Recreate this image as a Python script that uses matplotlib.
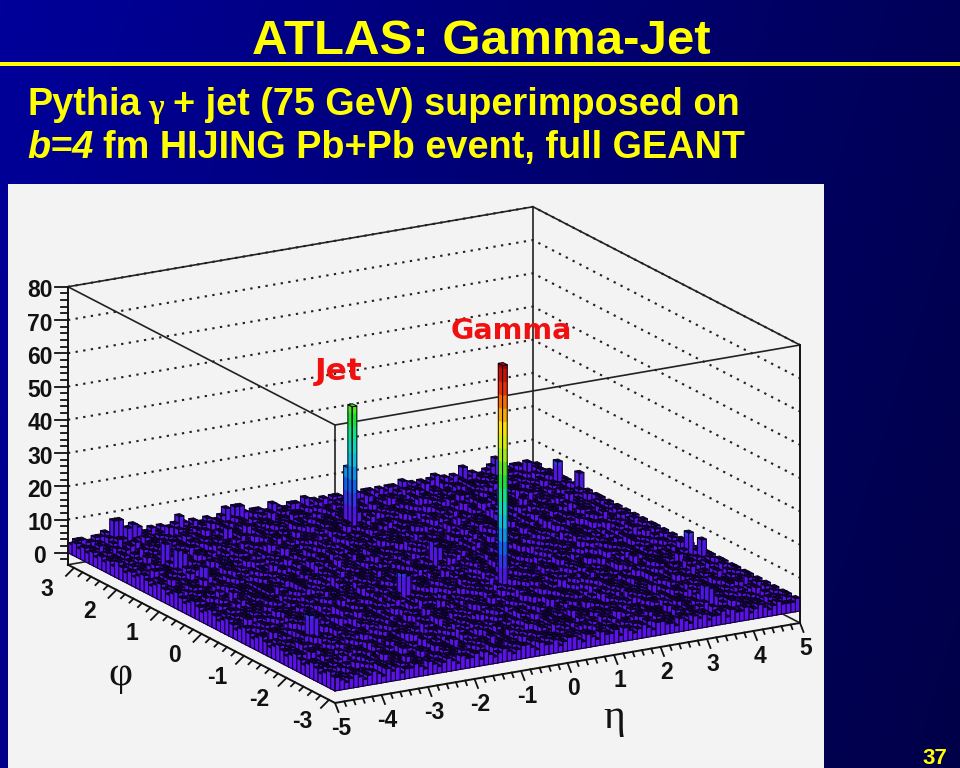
import numpy as np
import matplotlib
matplotlib.use("Agg")
import matplotlib.pyplot as plt
from matplotlib.collections import PolyCollection
from matplotlib.colors import LinearSegmentedColormap

# lego heights read by eye, one digit per cell, back row (phi = +pi) first, eta -5 on the left
lego_rows = [
    "3443344538433653343433464343342346343434433543344353434344335434434344353434345343436343345344344343",
    "4322132423312213123221323123212322132142312233122312412231312243212213231324221312231223132213324324",
    "3212321341221312231521231322413212231321243121322132121342212312132312413221321232132212312241232143",
    "4231132212312412213121322312213421312231213122312241321231221512312221324123122131231321224132213243",
    "3122313122412321312231231421321223121322131241231212313221231232142212313212231241232131221323124234",
    "4213212341213122131242132212313214231221321231324122132131224131223121342213122312213142312212313443",
    "3321231122312321412231321221523121322413121232132212312413221321231221413231212321324121322131231243",
    "4132122314132212312213412312213212313221241321231221351221312231241321221321241232132212312213241324",
    "3213421213221312412321312221341212312232141322131223121322413121322131232141221312231421232132213234",
    "4121323122131221341221312312212413231221312413212231212341221323121241322131212321321221412312312343",
    "3231212413221231213221413212231221321324121231322141232122131241312212313214212231312221341232121324",
    "5123122131241321221231321224131221412312213212231421321212313221241321231221314212312213212312241234",
    "4312213212312212413212312213121341223132121324132212312214123122131212341221321231322141213221312343",
    "3213124122132131222131241321221412312213412213121322132412312231214132212312213241232121322131242134",
    "4122313221241213221312341221321231221314213212231212413212312213241221312231214132212132312241213243",
    "3231412213122312413122132121323142122131231241321212231321224131221321412312212313242123122131232124",
    "4312212321413212213123122412132212312413221321231214123221312241321212313212241321231221312241321234",
    "5123212231241322131212412313221213241221312321221341231221312231214213212312241321221231314212312343",
    "4213131224123122132131241221321223141223121322131241321221412312213221341212312213241321231221321324",
    "3122412312213212413122132312241212313221412321312212231421321221312413212231241213221312231241221343",
    "4231221321241213212312231412213212312241321221312312414122132121322131241321221321241231221313212234",
    "5312213124123122131241321221321241231221341221312231212413213122132412312213121322141231322121341243",
    "4123212312213241321221231412312213212413122131232122141321231221341212312231241321213221241312213324",
    "3221341221312312214132123122132141232122131241221312312214132121321224131232122131241322121321231443",
    "4312132212413212231212341221321231221413213122312124132122131232141221321221341213122312214132123234",
    "5123221312241321231221413122132123124132212131232412213121322134122132123122141321221312312241321343",
    "4232131241221321231212413221312312413122131222134121321231224132121322131241321221412312213212313224",
    "3123212231413212231241213122132141231221321224131212312231421321212312241322131212341221321231221343",
    "4312241321212312231412213212231412312213412132212312213141232121322131241321223121241312213212341234",
    "5221312213412312212313212413221321241231221312141322131212341221321231221413212312212413122132213324",
    "4123132124132212313221241321221231241322131212341231221321241213212231312241321221412312213131224143",
    "3231221412312213212314122132121324131221232141221312312212413212312213124132212131241232122131322234",
    "4312213121322413212231213412213212312241321231221314213212231241213221312412312213212413122132134243",
    "5123412213123122132141232122131241221321231412213212312241321221312312413221213124132212312213212324",
    "4221321231241321221341213122312213141231221321241321212312231412213122312413212231241321212312241343",
    "3312132212314122131232141221321221341231221312413212231214132212312213212413122132141232122131322134",
    "4123221312241321213212312412213212231314122132123124132212131241322121321231224131221341212312231243",
    "5231412213121322131241321231221341213212312241312213212341221312231241321221312141232122131212341224",
    "4312213241321212312231412213221312413212231214132212312213124132122131241321223121322141231221321343",
    "3123212312241322131212413212231213412213212312214132123122141321221312312241321221413212312213124234",
    "4221341221321231221312413212231241213221312412312213212413122132121341221312231214132212312231413243",
    "5312132212413122132121324132212312213141232122131241321221321241231221312341212312213214132212131324",
    "4123221231241321221413212312212413122132141231221321224131212312231412132212312213124132121322131234",
    "3231412213122131232124132122131241321231221341213122312214132123122132141231221312413212231214122343",
    "4312213212312241321221312413212231214132212312231241213221312413212213124132212312213141232122131324",
    "5123122141321221312312241321221413212312213124132122132141231221321224131232122131241321212341221234",
    "4221312341221321231221413212231241321221312312413212213214132212312231412132212131241322131212313243",
    "3312213124132212312231214132122131241321231221341213212312241312213212312413221312231214132123122134",
    "4123212312413221213124132212312213241321221312413212312213141232122132141321223121241312213212341224",
    "5231241221321231224131212312231412213221312413212231214132212312213124132122131241321221341213122343",
    "4312132212131241322131212341221312231241321221312141232122132141231221321241321212312231412213212234",
    "3123221321241312213212312413221213124132212312213241321221312312413212231214132122131241321221312324",
    "4221412312213212413122132141231221321224131212312231412213212312241321221413122132123124132212312143",
    "5312213124132122131241321223121322141231221321241321212312241322131212341221321231221413212231241234",
    "4123212231214132212312213141232122131241321221312413212312213124132212131241322131212341231221321343",
    "3231221341213212312241312213212312413221312231214132123122132141321221312312241321221413212312213224",
    "4312132212413212231241213221312412312213212413122132141231221321224131212312231412132212312213124243",
    "5123212312213124132212131241322131212341221321231221413212231241321221312312413212213214132212312134",
    "4221321241321212312231412213221312413212231214132212312213141232122131241321231221341213122312214343",
    "3312413122132123124132212312213241321221312413212312213124132122131241321221412312213212413212231234",
    "4123122132141231221321241321212312241322131212341221312231241321221312141232122132141231221321241324",
    "5232341323243234132324332423134233243234323432414323423132434232343243132334234243234132343243234243",
    "4323432343243423343243234324334243234323443243342344324324334243234324433243243423342433423432343334",
]

eta_ticks = [-5, -4, -3, -2, -1, 0, 1, 2, 3, 4, 5]
phi_ticks = [-3, -2, -1, 0, 1, 2, 3]
z_ticks = [0, 10, 20, 30, 40, 50, 60, 70, 80]

# taller cells picked out of the picture: (eta bin, phi bin counted from the front, height)
tall_cols = [57, 52, 52, 53, 10, 11, 38, 39, 10, 10, 11, 10, 84, 85, 97, 98, 91, 92, 98, 99, 96, 54, 54, 10, 35, 36, 11]
tall_rows = [23, 53, 54, 53, 17, 17, 26, 26, 51, 48, 48, 42, 5, 5, 23, 21, 62, 62, 55, 51, 60, 36, 35, 62, 62, 62, 61]
tall_vals = [69, 38, 19, 6, 9, 8, 9, 8, 8, 8, 7, 7, 8, 7, 9, 8, 7, 6, 9, 8, 6, 8, 7, 8, 6, 6, 6]

heights = np.array([[int(c) for c in row[:100].ljust(100, "2")] for row in lego_rows], dtype=float)
heights = heights[::-1]  # index 0 is now the front phi row
for c, r, v in zip(tall_cols, tall_rows, tall_vals):
    heights[r, c] = v

n_rows, n_cols = heights.shape
eta_edges = np.linspace(-5, 5, n_cols + 1)
phi_edges = np.linspace(-np.pi, np.pi, n_rows + 1)

Z_MIN = -3.6
Z_MAX = 80
FRONT = (335.0, 691.0)
ETA_VEC = (46.5, -8.0)
PHI_VEC = (-42.5, -22.0)
Z_SCALE = 3.325


def project(eta, phi, z):
    a = eta + 5
    b = phi + np.pi
    return (FRONT[0] + a * ETA_VEC[0] + b * PHI_VEC[0],
            FRONT[1] + a * ETA_VEC[1] + b * PHI_VEC[1] - z * Z_SCALE)


def line3d(ax, pts, **kw):
    xs, ys = zip(*[project(*p) for p in pts])
    ax.plot(xs, ys, **kw)


fig = plt.figure(figsize=(9.6, 7.68), dpi=100)
ax = fig.add_axes([0, 0, 1, 1])
ax.set_xlim(0, 960)
ax.set_ylim(768, 0)
ax.axis("off")

# slide background, blue fading to the right
grad = np.linspace(0, 1, 256).reshape(1, -1) + np.linspace(0, 0.25, 256).reshape(-1, 1)
bg = LinearSegmentedColormap.from_list("slide", ["#00009a", "#000048"])
ax.imshow(grad, extent=(0, 960, 768, 0), cmap=bg, vmin=0, vmax=1.25, aspect="auto", zorder=0)
ax.set_xlim(0, 960)
ax.set_ylim(768, 0)
ax.fill_between([0, 960], 62, 66, color="#ffff00", lw=0, zorder=1)
ax.fill_between([8, 824], 184, 768, color="#f3f3f3", lw=0, zorder=1)

sans = "Liberation Sans"
ax.text(481, 42, "ATLAS: Gamma-Jet", color="#ffff00", fontsize=35.5, fontweight="bold",
        family=sans, ha="center", va="center", zorder=2)
ax.text(27, 105, "Pythia", color="#ffff00", fontsize=27.3, fontweight="bold", family=sans, va="center", zorder=2)
ax.text(148, 108, "γ", color="#ffff00", fontsize=24, fontweight="bold", family="Liberation Serif", va="center", zorder=2)
ax.text(173, 105, "+ jet (75 GeV) superimposed on", color="#ffff00", fontsize=27.3, fontweight="bold",
        family=sans, va="center", zorder=2)
ax.text(27, 148, "b=4", color="#ffff00", fontsize=27.3, fontweight="bold", style="italic", family=sans, va="center", zorder=2)
ax.text(103, 148, "fm HIJING Pb+Pb event, full GEANT", color="#ffff00", fontsize=27.3, fontweight="bold",
        family=sans, va="center", zorder=2)
ax.text(935, 759, "37", color="#ffff00", fontsize=16, fontweight="bold", family=sans, ha="center", va="center", zorder=2)

# back walls and box, these sit under the bars
E0, E1, P0, P1 = -5, 5, -np.pi, np.pi
box = dict(color="#222222", lw=1.2, zorder=3, solid_capstyle="round")
for z in z_ticks:
    line3d(ax, [(E0, P1, z), (E1, P1, z), (E1, P0, z)], color="#222222", lw=1.5,
           ls=(0, (1.1, 2.6)), zorder=3)
line3d(ax, [(E1, P1, Z_MIN), (E1, P1, Z_MAX)], **box)
line3d(ax, [(E0, P0, 0), (E0, P0, Z_MAX)], **box)
line3d(ax, [(E0, P1, Z_MIN), (E1, P1, Z_MIN), (E1, P0, Z_MIN)], **box)
line3d(ax, [(E0, P1, Z_MAX), (E1, P1, Z_MAX), (E1, P0, Z_MAX)], **box)
line3d(ax, [(E0, P1, Z_MAX), (E0, P0, Z_MAX), (E1, P0, Z_MAX)], **box)

# lego bars, painted from the far corner to the near one
palette = LinearSegmentedColormap.from_list(
    "root", ["#6010e8", "#4a18e0", "#1060e8", "#10b8e0", "#10e0a0", "#20e020", "#a0e810", "#f8f000", "#f89000", "#e82000", "#a80000"])
BAND = 4.0
EDGE = "#08021c"
NO_FILL = (0, 0, 0, 0)


def band_color(z_mid):
    return palette(min(z_mid / 70.0, 1.0))


verts, faces, edges = [], [], []
for r in range(n_rows - 1, -1, -1):
    for c in range(n_cols - 1, -1, -1):
        h = heights[r, c]
        e0, e1 = eta_edges[c], eta_edges[c + 1]
        p0, p1 = phi_edges[r], phi_edges[r + 1]
        z_from = 0.0
        while z_from < h:
            z_to = min(z_from + BAND, h)
            col = band_color(z_from + BAND / 2)
            verts.append([project(e0, p1, z_from), project(e0, p0, z_from), project(e0, p0, z_to), project(e0, p1, z_to)])
            faces.append(col)
            edges.append(col)
            verts.append([project(e0, p0, z_from), project(e1, p0, z_from), project(e1, p0, z_to), project(e0, p0, z_to)])
            faces.append(col)
            edges.append(col)
            z_from = z_to
        # outline of the two side faces, drawn once over the colour bands
        verts.append([project(e0, p1, 0), project(e0, p0, 0), project(e0, p0, h), project(e0, p1, h)])
        faces.append(NO_FILL)
        edges.append(EDGE)
        verts.append([project(e0, p0, 0), project(e1, p0, 0), project(e1, p0, h), project(e0, p0, h)])
        faces.append(NO_FILL)
        edges.append(EDGE)
        verts.append([project(e0, p0, h), project(e1, p0, h), project(e1, p1, h), project(e0, p1, h)])
        faces.append(band_color(h - 1) if h > 12 else "#14043e")
        edges.append(EDGE)

bars = PolyCollection(verts, facecolors=faces, edgecolors=edges, linewidths=0.7, zorder=4)
ax.add_collection(bars)

# axes below the lego
axis = dict(color="#111111", lw=1.4, zorder=5)
line3d(ax, [(E0, P1, Z_MIN), (E0, P0, Z_MIN), (E1, P0, Z_MIN)], **axis)

for t in np.arange(-5, 5.01, 0.2):
    x, y = project(t, P0, Z_MIN)
    major = abs(t - round(t)) < 1e-6
    f = 1.0 if major else 0.5
    ax.plot([x, x + 3.5 * f], [y, y + 9 * f], color="#111111", lw=1.3, zorder=5)
for t in np.arange(-3, 3.01, 0.2):
    x, y = project(E0, t, Z_MIN)
    major = abs(t - round(t)) < 1e-6
    f = 1.0 if major else 0.5
    ax.plot([x, x - 8 * f], [y, y + 8 * f], color="#111111", lw=1.3, zorder=5)
line3d(ax, [(E0, P1, Z_MIN), (E0, P1, Z_MAX)], **axis)
for t in np.arange(-2, 80.01, 2):
    x, y = project(E0, P1, t)
    ln = 13 if abs(t % 10) < 1e-6 else 6.5
    ax.plot([x - ln, x], [y, y], color="#111111", lw=1.3, zorder=5)
line3d(ax, [(E1, P0, Z_MIN), (E1, P0, Z_MAX)], **axis)

tick_font = dict(fontsize=16.5, fontweight="bold", family=sans, color="#111111", ha="center", va="center", zorder=6)
for v in z_ticks:
    x, y = project(E0, P1, v)
    ax.text(x - 28, y + 4, str(v), **tick_font)
for v in eta_ticks:
    x, y = project(v, P0, Z_MIN)
    ax.text(x + 6, y + 26, str(v), **tick_font)
for v in phi_ticks:
    x, y = project(E0, v, Z_MIN)
    ax.text(x - 27, y + 22, str(v), **tick_font)

ax.text(120, 675, "φ", fontsize=30, family="Liberation Serif", color="#111111", ha="center", va="center", zorder=6)
ax.text(614, 718, "η", fontsize=30, family="Liberation Serif", color="#111111", ha="center", va="center", zorder=6)

ax.text(511, 331, "Gamma", fontsize=20.5, fontweight="bold", family="DejaVu Sans", color="#f01010", ha="center", va="center", zorder=6)
ax.text(339, 372, "Jet", fontsize=22.5, fontweight="bold", family="DejaVu Sans", color="#f01010", ha="center", va="center", zorder=6)

fig.savefig("out.png", dpi=100)
